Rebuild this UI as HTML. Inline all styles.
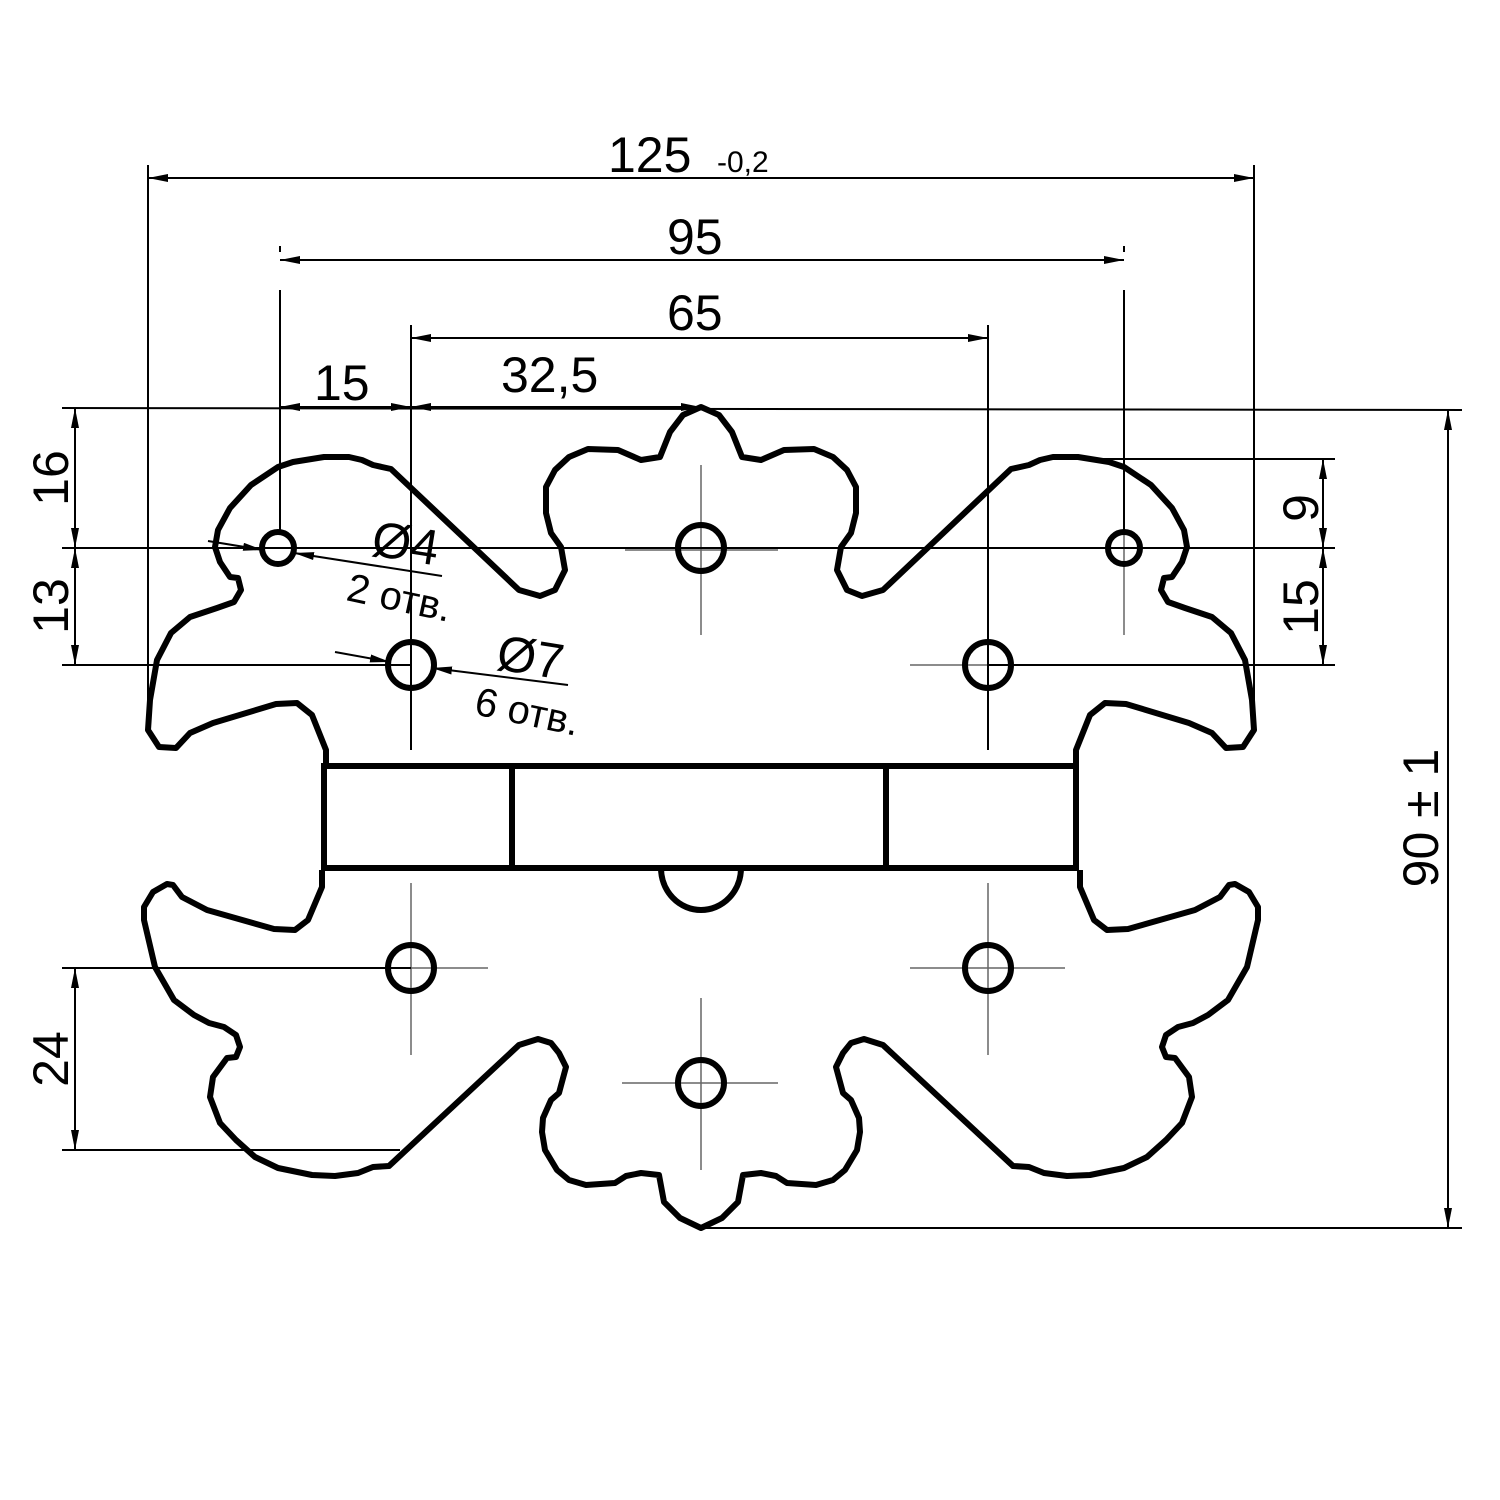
<!DOCTYPE html>
<html><head><meta charset="utf-8"><style>html,body{margin:0;padding:0;background:#fff}svg{display:block}</style></head>
<body>
<svg id="s" xmlns="http://www.w3.org/2000/svg" width="1500" height="1500" viewBox="0 0 1500 1500" font-family="Liberation Sans, sans-serif">
<defs>
<marker id="a" viewBox="0 0 20 8" refX="20" refY="4" markerWidth="20" markerHeight="8" markerUnits="userSpaceOnUse" orient="auto-start-reverse"><path d="M0,0 L20,4 L0,8 Z" fill="#000"/></marker>
</defs>
<g id="cl" stroke="#666" stroke-width="1.5" fill="none">
<line x1="701" y1="465" x2="701" y2="635"/><line x1="625" y1="550" x2="778" y2="550"/>
<line x1="988" y1="580" x2="988" y2="750"/><line x1="910" y1="665" x2="988" y2="665"/>
<line x1="411" y1="585" x2="411" y2="750"/>
<line x1="411" y1="883" x2="411" y2="1055"/><line x1="411" y1="968" x2="488" y2="968"/>
<line x1="988" y1="883" x2="988" y2="1055"/><line x1="910" y1="968" x2="1065" y2="968"/>
<line x1="701" y1="998" x2="701" y2="1170"/><line x1="622" y1="1083" x2="778" y2="1083"/>
<line x1="1124" y1="465" x2="1124" y2="635"/>
</g>
<g stroke="#000" stroke-width="2" fill="none">
<line x1="148" y1="165" x2="148" y2="700"/><line x1="1254" y1="165" x2="1254" y2="700"/>
<line x1="148" y1="178" x2="1254" y2="178" marker-start="url(#a)" marker-end="url(#a)"/>
<line x1="280" y1="290" x2="280" y2="530"/><line x1="1124" y1="290" x2="1124" y2="530"/>
<line x1="280" y1="246" x2="280" y2="252"/><line x1="1124" y1="246" x2="1124" y2="252"/>
<line x1="280" y1="260" x2="1124" y2="260" marker-start="url(#a)" marker-end="url(#a)"/>
<line x1="411" y1="325" x2="411" y2="750"/><line x1="988" y1="325" x2="988" y2="750"/>
<line x1="411" y1="338" x2="988" y2="338" marker-start="url(#a)" marker-end="url(#a)"/>
<line x1="62" y1="408" x2="1462" y2="410"/>
<line x1="280" y1="407" x2="411" y2="407" marker-start="url(#a)" marker-end="url(#a)"/>
<line x1="411" y1="407" x2="701" y2="407" marker-start="url(#a)" marker-end="url(#a)"/>
<line x1="62" y1="548" x2="1335" y2="548"/>
<line x1="62" y1="665" x2="411" y2="665"/><line x1="988" y1="665" x2="1335" y2="665"/>
<line x1="75" y1="408" x2="75" y2="548" marker-start="url(#a)" marker-end="url(#a)"/>
<line x1="75" y1="548" x2="75" y2="665" marker-start="url(#a)" marker-end="url(#a)"/>
<line x1="1090" y1="459" x2="1335" y2="459"/>
<line x1="1323" y1="459" x2="1323" y2="548" marker-start="url(#a)" marker-end="url(#a)"/>
<line x1="1323" y1="548" x2="1323" y2="665" marker-start="url(#a)" marker-end="url(#a)"/>
<line x1="62" y1="968" x2="411" y2="968"/><line x1="62" y1="1150" x2="400" y2="1150"/>
<line x1="75" y1="968" x2="75" y2="1150" marker-start="url(#a)" marker-end="url(#a)"/>
<line x1="701" y1="1228" x2="1462" y2="1228"/>
<line x1="1448" y1="410" x2="1448" y2="1228" marker-start="url(#a)" marker-end="url(#a)"/>
<line x1="208" y1="541" x2="263" y2="550" marker-end="url(#a)"/>
<line x1="442" y1="576" x2="294" y2="553" marker-end="url(#a)"/>
<line x1="335" y1="652" x2="390" y2="662" marker-end="url(#a)"/>
<line x1="568" y1="685" x2="432" y2="668" marker-end="url(#a)"/>
</g>
<g id="part" stroke="#000" stroke-width="6" fill="none" stroke-linejoin="round"></g>
<g stroke="#000" stroke-width="6" fill="none">
<circle cx="278" cy="548" r="16"/><circle cx="1124" cy="548" r="16"/>
<circle cx="701" cy="548" r="23"/><circle cx="411" cy="665" r="23"/><circle cx="988" cy="665" r="23"/>
<circle cx="411" cy="968" r="23"/><circle cx="988" cy="968" r="23"/><circle cx="701" cy="1083" r="23"/>
<rect x="324" y="766" width="752" height="102"/>
<line x1="512" y1="766" x2="512" y2="868"/><line x1="886" y1="766" x2="886" y2="868"/>
<path d="M661,868 A40,42 0 0 0 741,868"/>
</g>
<g fill="#000" font-size="50">
<text x="608" y="172">125</text><text x="717" y="172" font-size="30">-0,2</text>
<text x="667" y="254">95</text>
<text x="667" y="330">65</text>
<text x="314" y="400">15</text>
<text x="501" y="392">32,5</text>
<text transform="translate(68,478) rotate(-90)" text-anchor="middle">16</text>
<text transform="translate(68,606) rotate(-90)" text-anchor="middle">13</text>
<text transform="translate(68,1059) rotate(-90)" text-anchor="middle">24</text>
<text transform="translate(1318,508) rotate(-90)" text-anchor="middle">9</text>
<text transform="translate(1318,607) rotate(-90)" text-anchor="middle">15</text>
<text transform="translate(1438,818) rotate(-90)" text-anchor="middle">90 ± 1</text>
<text transform="translate(370,555) rotate(9)">Ø4</text>
<text transform="translate(345,600) rotate(12)" font-size="40">2 отв.</text>
<text transform="translate(495,669) rotate(9)">Ø7</text>
<text transform="translate(473,714) rotate(12)" font-size="40">6 отв.</text>
</g>
<script>
var up=[[326,763],[326,750],[312,715],[297,703],[276,704],[213,723],[190,733],[176,748],[159,747],[148,730],[150,700],[157,660],[171,633],[190,617],[217,608],[234,602],[241,590],[238,578],[230,577],[220,562],[215,547],[218,530],[230,508],[251,485],[278,467],[293,462],[324,457],[349,457],[362,460],[373,465],[391,469],[519,590],[540,596],[555,590],[565,570],[561,547],[551,533],[546,513],[546,487],[555,470],[569,457],[588,449],[618,450],[641,460],[660,457],[670,432],[683,415],[701,407]];
var lo=[[322,870],[322,887],[308,920],[295,930],[274,929],[207,910],[182,897],[173,885],[167,884],[153,892],[144,907],[144,920],[155,967],[174,1000],[194,1015],[209,1023],[224,1027],[236,1035],[240,1047],[236,1057],[227,1058],[213,1077],[210,1097],[220,1123],[236,1140],[255,1157],[278,1168],[312,1175],[335,1176],[358,1173],[373,1167],[389,1166],[519,1045],[538,1039],[551,1043],[559,1053],[566,1067],[559,1093],[551,1100],[543,1118],[542,1132],[545,1150],[557,1170],[569,1180],[586,1185],[615,1183],[626,1176],[641,1173],[659,1175],[664,1202],[680,1218],[701,1228]];
function mk(p){var a=p.slice();for(var i=p.length-2;i>=0;i--)a.push([1402-p[i][0],p[i][1]]);return "M"+a.map(function(q){return q.join(",")}).join(" L");}
var g=document.getElementById("part");
[up,lo].forEach(function(p){var e=document.createElementNS("http://www.w3.org/2000/svg","path");e.setAttribute("d",mk(p));g.appendChild(e);});
</script>
</svg>
</body></html>
